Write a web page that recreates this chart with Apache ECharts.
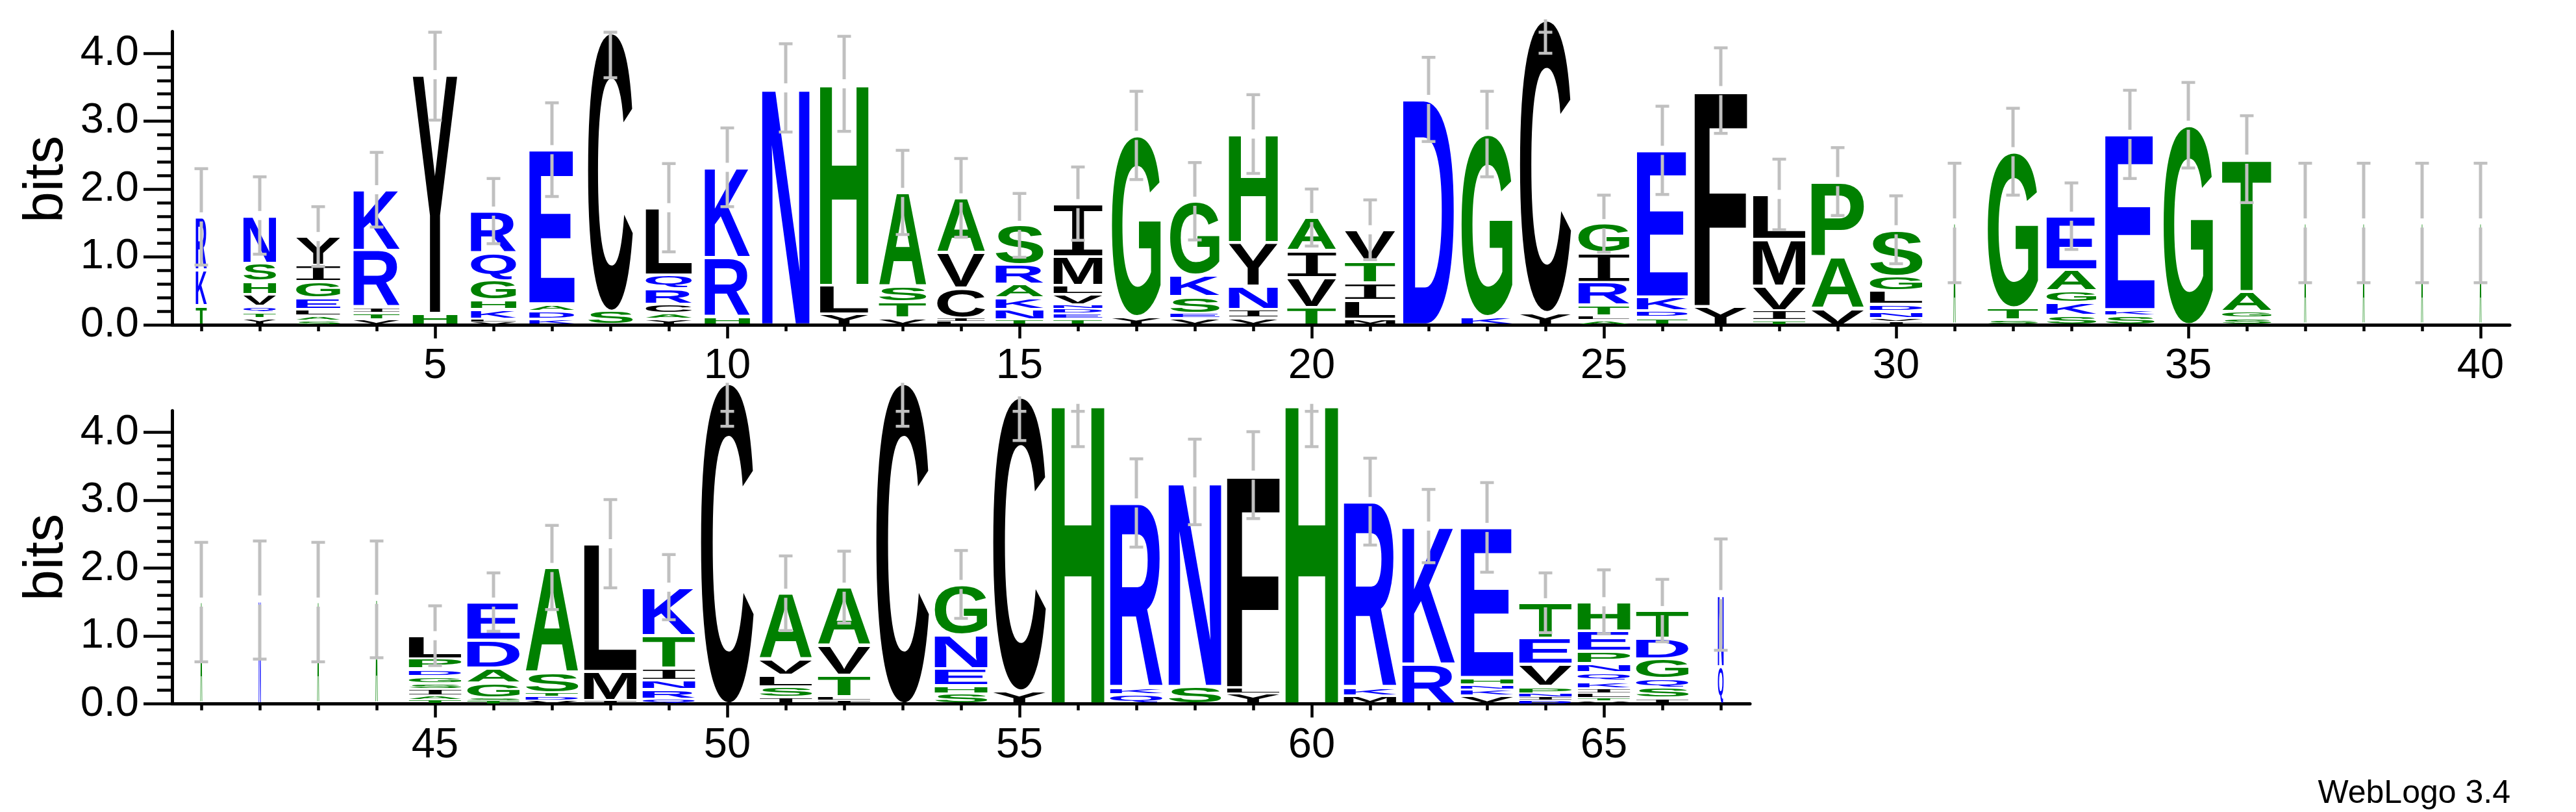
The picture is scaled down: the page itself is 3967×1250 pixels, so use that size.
<!DOCTYPE html>
<html>
<head>
<meta charset="utf-8">
<script src="https://cdn.jsdelivr.net/npm/echarts@6/dist/echarts.min.js"></script>
<style>
html,body{margin:0;padding:0;background:#ffffff;}
#chart{width:3967px;height:1250px;}
</style>
</head>
<body>
<div id="chart"></div>
<script>
// ---------------- DATA ----------------
const positions = [1,2,3,4,5,6,7,8,9,10,11,12,13,14,15,16,17,18,19,20,21,22,23,24,25,26,27,28,29,30,31,32,33,34,35,36,37,38,39,40,
  41,42,43,44,45,46,47,48,49,50,51,52,53,54,55,56,57,58,59,60,61,62,63,64,65,66,67];

// letters of each stack, bottom -> top
const stackLetters = ['TKR','YTQVHSN','SALEGIY','VTIRK','HY','VLKHGQR','KDAE','SC','YACRQL','HRK',
  'N','YLH','VTSA','LICVA','TNKARS','TEDNVLMI','YG','VESKG','VINYH','TVIA',
  'MLITV','D','KG','YC','ALTRIG','TDKE','YF','TIVML','VAP','IVNDLGS',
  'A','STG','SKGAE','SKE','G','SGAT','A','A','A','A',
  'A','N','A','A','TAISGDPL','TSGADE','VDTSA','IML','QRNITK','C',
  'ISLVA','ILTVA','C','SHENG','YC','H','QKR','SN','YLF','H',
  'MKR','RK','VKNHE','DINPVET','VTLIKQNPEH','ISQGDT','QN'];

// letter heights in bits, bottom -> top
const stackBits = [
  [.28,.53,.78],[.10,.08,.09,.18,.19,.27,.70],[.06,.07,.10,.17,.24,.24,.42],[.075,.095,.085,.845,.89],[.17,3.515],
  [.04,.045,.14,.14,.29,.41,.61],[.08,.12,.11,2.27],[.2,4.11],[.085,.08,.14,.23,.2,.99],[.12,.87,1.33],
  [3.49],[.16,.42,2.97],[.1,.24,.23,1.38],[.05,.05,.44,.52,.81],[.075,.15,.17,.2,.29,.58],
  [.085,.08,.07,.06,.15,.14,.42,.78],[.12,2.67],[.1,.07,.25,.31,1.09],[.1,.13,.34,.64,1.6],[.26,.44,.39,.49],
  [.08,.28,.26,.32,.46],[3.32],[.12,2.69],[.18,4.32],[.07,.06,.16,.34,.43,.43],
  [.11,.10,.20,2.16],[.27,3.18],[.06,.15,.36,.69,.66],[.24,.76,1.11],[.045,.045,.11,.10,.20,.22,.68],
  [1.5],[.07,.18,2.30],[.14,.19,.17,.31,.79],[.14,.085,2.58],[2.94],
  [.1,.1,.29,1.95],[1.5],[1.5],[1.5],[1.5],
  [1.5],[1.53],[1.5],[1.54],[.06,.06,.1,.085,.1,.11,.15,.34],
  [.05,.04,.22,.22,.41,.56],[.05,.06,.05,.30,1.55],[.05,.43,1.88],[.07,.14,.14,.18,.48,.71],[4.73],
  [.1,.15,.17,.24,.97],[.05,.06,.31,.44,.86],[4.73],[.15,.12,.25,.5,.74],[.19,4.34],
  [4.42],[.14,.10,2.72],[.26,3.01],[.15,.09,3.13],[4.42],
  [.12,.12,2.74],[.59,2.03],[.12,.09,.07,.11,2.21],[.05,.05,.05,.11,.33,.38,.52],[.04,.045,.07,.07,.11,.13,.13,.18,.3,.43],
  [.085,.15,.14,.29,.30,.41],[.55,1.06]
];

// relative stack width (column occupancy)
const stackWidth = [.21,.62,.84,.88,.85,.86,.86,.85,.88,.86,
  .9,.92,.9,.91,.91,.93,.93,.94,.93,.93,
  .96,.97,.97,.97,.97,.97,1,1,1,1,
  .04,.96,.95,.94,.94,.94,.035,.035,.035,.035,
  .035,.04,.035,.04,1,1,1,1,1,1,
  1,1,1,1,1,1,1,1,1,1,
  1,1,1,1,1,1,.11];

// error (bits) around the stack top
const errorBits = [.71,.57,.44,.55,.67,.48,.69,.67,.65,.58,
  .65,.7,.62,.58,.47,.54,.65,.57,.58,.42,
  .44,.62,.63,.5,.42,.65,.63,.52,.5,.5,
  .88,.64,.49,.65,.63,.64,.88,.88,.88,.88,
  .88,.87,.88,.86,.44,.43,.62,.65,.48,.64,
  .55,.53,.64,.5,.65,.63,.65,.63,.64,.63,
  .64,.54,.66,.44,.47,.46,.82];

const row1Minor = [1,2,3,4,5,6,7,8,9,10,11,12,13,14,15,16,17,18,19,20,21,22,23,24,25,26,27,28,29,30,31,32,33,34,35,36,37,38,39,40];
const row1Major = [5,10,15,20,25,30,35,40];
const row2Minor = [41,42,43,44,45,46,47,48,49,50,51,52,53,54,55,56,57,58,59,60,61,62,63,64,65,66,67];
const row2Major = [45,50,55,60,65];
const yMajor = [0,1,2,3,4];
const yMinor = [0.2,0.4,0.6,0.8,1.2,1.4,1.6,1.8,2.2,2.4,2.6,2.8,3.2,3.4,3.6,3.8];
const Y_MAX = 4.32;

// ---------------- STYLE / HELPERS ----------------
const BLUE = '#0000ff', GREEN = '#008000', BLACK = '#000000';
function colorOf(ch){
  if ('RKDENQ'.indexOf(ch) >= 0) return BLUE;
  if ('SGHTAP'.indexOf(ch) >= 0) return GREEN;
  return BLACK;
}
const FPX = 200;
function fontOf(ch){
  return ch === 'I' ? FPX + 'px "DejaVu Sans Mono"' : 'bold ' + FPX + 'px "Liberation Sans", Arial, sans-serif';
}
const mctx = document.createElement('canvas').getContext('2d');
const metricCache = {};
function glyph(ch){
  if (!metricCache[ch]) {
    mctx.font = fontOf(ch);
    mctx.textBaseline = 'middle';
    mctx.textAlign = 'left';
    const m = mctx.measureText(ch);
    metricCache[ch] = {l: -m.actualBoundingBoxLeft, r: m.actualBoundingBoxRight,
                       t: -m.actualBoundingBoxAscent, b: m.actualBoundingBoxDescent};
  }
  return metricCache[ch];
}

const flat = [];
const letters1 = [], letters2 = [], errs1 = [], errs2 = [];
positions.forEach(function(p, i){
  let base = 0;
  const s = stackLetters[i], b = stackBits[i];
  for (let k = 0; k < s.length; k++) {
    flat.push(s[k]);
    const item = [p, base, base + b[k], stackWidth[i], flat.length - 1];
    (p <= 40 ? letters1 : letters2).push(item);
    base += b[k];
  }
  (p <= 40 ? errs1 : errs2).push([p, base, errorBits[i]]);
});

function renderLetter(params, api){
  const pos = api.value(0), y0 = api.value(1), y1 = api.value(2), wf = api.value(3), idx = api.value(4);
  const ch = flat[idx];
  const pb = api.coord([pos, y0]);
  const pt = api.coord([pos, y1]);
  const unit = api.size([1, 0])[0];
  const w = unit * 0.9 * wf;
  let top = pt[1], bot = pb[1];
  const h = bot - top;
  const inset = Math.min(2.3, h * 0.2);
  top += inset; bot -= inset;
  const g = glyph(ch);
  const sx = w / (g.r - g.l);
  const sy = (bot - top) / (g.b - g.t);
  const x0 = pb[0] - w / 2;
  return {
    type: 'text',
    silent: true,
    x: x0 - sx * g.l,
    y: top - sy * (FPX / 2 + g.t),
    scaleX: sx,
    scaleY: sy,
    style: {text: ch, font: fontOf(ch), fill: colorOf(ch), lineHeight: FPX, align: 'left', verticalAlign: 'top'}
  };
}

const ERR_COLOR = '#c0c0c0';
const CLIP = 4.31;
function renderErr(params, api){
  const pos = api.value(0), top = api.value(1), e = api.value(2);
  const hiVal = Math.min(top + e, CLIP);
  const pT = api.coord([pos, top]);
  const pHi = api.coord([pos, hiVal]);
  const pLo = api.coord([pos, top - e]);
  const x = pT[0];
  const ls = {stroke: ERR_COLOR, lineWidth: 5};
  const cs = {stroke: ERR_COLOR, lineWidth: 4.5};
  const ch = [
    {type: 'line', shape: {x1: x - 10.5, y1: pHi[1], x2: x + 10.5, y2: pHi[1]}, style: cs},
    {type: 'line', shape: {x1: x - 10.5, y1: pLo[1], x2: x + 10.5, y2: pLo[1]}, style: cs}
  ];
  if (top < CLIP) {
    ch.push({type: 'line', shape: {x1: x, y1: pLo[1], x2: x, y2: pT[1] + 7}, style: ls});
    ch.push({type: 'line', shape: {x1: x, y1: pT[1] - 7, x2: x, y2: pHi[1]}, style: ls});
  } else {
    ch.push({type: 'line', shape: {x1: x, y1: pLo[1], x2: x, y2: pT[1]}, style: ls});
  }
  return {type: 'group', silent: true, children: ch};
}

const LABEL_FONT = 'Liberation Sans';
function xAxesFor(g, min, max, minor, major){
  return [
    {gridIndex: g, type: 'value', min: min, max: max, position: 'bottom',
     axisLine: {show: true, onZero: false, lineStyle: {color: '#000', width: 5}},
     axisTick: {show: true, customValues: minor, length: 10, lineStyle: {color: '#000', width: 4.5}},
     axisLabel: {show: false}, splitLine: {show: false}},
    {gridIndex: g, type: 'value', min: min, max: max, position: 'bottom',
     axisLine: {show: false, onZero: false},
     axisTick: {show: true, customValues: major, length: 21, lineStyle: {color: '#000', width: 4.5}},
     axisLabel: {show: true, customValues: major, fontSize: 65, lineHeight: 65, fontFamily: LABEL_FONT, color: '#000', margin: 32},
     splitLine: {show: false}}
  ];
}
function yAxesFor(g){
  return [
    {gridIndex: g, type: 'value', min: 0, max: Y_MAX, position: 'left',
     axisLine: {show: true, onZero: false, lineStyle: {color: '#000', width: 5}},
     axisTick: {show: true, customValues: yMajor, length: 44, lineStyle: {color: '#000', width: 4.5}},
     axisLabel: {show: true, customValues: yMajor, formatter: function(v){ return Number(v).toFixed(1); },
                 fontSize: 65, lineHeight: 65, fontFamily: LABEL_FONT, color: '#000', margin: 51, padding: [9, 0, 0, 0]},
     splitLine: {show: false}},
    {gridIndex: g, type: 'value', min: 0, max: Y_MAX, position: 'left',
     axisLine: {show: false, onZero: false},
     axisTick: {show: true, customValues: yMinor, length: 23, lineStyle: {color: '#000', width: 4.5}},
     axisLabel: {show: false}, splitLine: {show: false}}
  ];
}

const PX_PER_BIT = 104.5;
const GRID_H = Y_MAX * PX_PER_BIT;
const chart = echarts.init(document.getElementById('chart'), null, {renderer: 'canvas'});
chart.setOption({
  animation: false,
  backgroundColor: '#ffffff',
  grid: [
    {left: 265, top: 500 - GRID_H, width: 3600, height: GRID_H},
    {left: 265, top: 1083.6 - GRID_H, width: 2430, height: GRID_H}
  ],
  xAxis: xAxesFor(0, 0.5, 40.5, row1Minor, row1Major).concat(xAxesFor(1, 40.5, 67.5, row2Minor, row2Major)),
  yAxis: yAxesFor(0).concat(yAxesFor(1)),
  graphic: [
    {type: 'text', x: 72, y: 276, rotation: Math.PI / 2, silent: true,
     style: {text: 'bits', font: '86px "Liberation Sans"', fill: '#000', align: 'center', verticalAlign: 'middle'}},
    {type: 'text', x: 72, y: 858, rotation: Math.PI / 2, silent: true,
     style: {text: 'bits', font: '86px "Liberation Sans"', fill: '#000', align: 'center', verticalAlign: 'middle'}},
    {type: 'text', x: 3866, y: 1222, silent: true,
     style: {text: 'WebLogo 3.4', font: '50px "Liberation Sans"', fill: '#000', align: 'right', verticalAlign: 'middle'}}
  ],
  series: [
    {type: 'custom', name: 'letters-1', xAxisIndex: 0, yAxisIndex: 0, clip: false, z: 2,
     dimensions: ['pos', 'y0', 'y1', 'w', 'idx'], encode: {x: 0, y: [1, 2]},
     renderItem: renderLetter, data: letters1},
    {type: 'custom', name: 'errors-1', xAxisIndex: 0, yAxisIndex: 0, clip: false, z: 3,
     dimensions: ['pos', 'top', 'err'], encode: {x: 0, y: 1},
     renderItem: renderErr, data: errs1},
    {type: 'custom', name: 'letters-2', xAxisIndex: 2, yAxisIndex: 2, clip: false, z: 2,
     dimensions: ['pos', 'y0', 'y1', 'w', 'idx'], encode: {x: 0, y: [1, 2]},
     renderItem: renderLetter, data: letters2},
    {type: 'custom', name: 'errors-2', xAxisIndex: 2, yAxisIndex: 2, clip: false, z: 3,
     dimensions: ['pos', 'top', 'err'], encode: {x: 0, y: 1},
     renderItem: renderErr, data: errs2}
  ]
});
</script>
</body>
</html>
